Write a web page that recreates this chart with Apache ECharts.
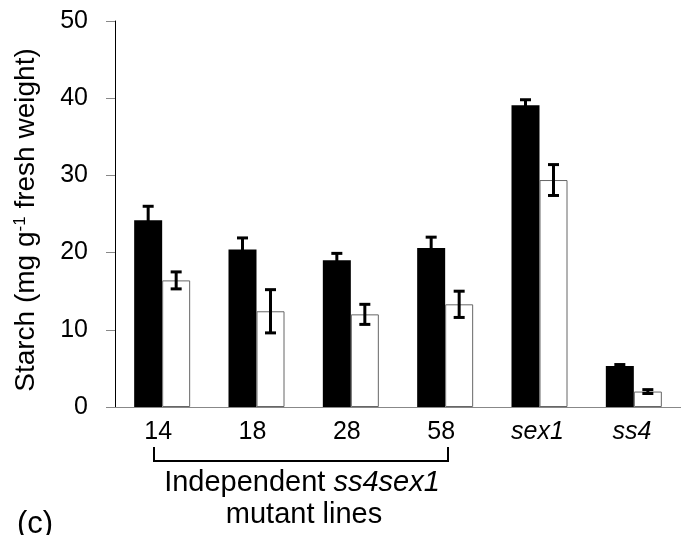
<!DOCTYPE html>
<html>
<head>
<meta charset="utf-8">
<script src="https://cdn.jsdelivr.net/npm/echarts@6/dist/echarts.min.js"></script>
<style>html,body{margin:0;padding:0;background:#fff;}#c{width:681px;height:535px;}</style>
</head>
<body>
<div id="c"></div>
<script>
const categories = ['14', '18', '28', '58', 'sex1', 'ss4'];
const italicCategories = ['sex1', 'ss4'];
const blackValues = [24.2, 20.4, 19.0, 20.6, 39.1, 5.3];
const blackErrors = [1.8, 1.5, 0.9, 1.4, 0.7, 0.2];
const whiteValues = [16.4, 12.4, 12.0, 13.3, 29.4, 2.0];
const whiteErrors = [1.1, 2.8, 1.3, 1.7, 2.0, 0.25];
const yMin = 0, yMax = 50, yStep = 10;

const FONT = '"Liberation Sans", Arial, sans-serif';
const BAR_W = 28;

function errSeries(values, errors, offset) {
  return {
    type: 'custom',
    z: 10,
    data: values.map((v, i) => [i, v, errors[i]]),
    encode: { x: 0, y: 1 },
    renderItem: function (params, api) {
      const i = api.value(0), v = api.value(1), e = api.value(2);
      const top = api.coord([i, v + e]);
      const bot = api.coord([i, v - e]);
      const x = top[0] + offset;
      const hw = 5.5;
      const st = { stroke: '#000', lineWidth: 3 };
      return {
        type: 'group',
        children: [
          { type: 'line', shape: { x1: x, y1: top[1], x2: x, y2: bot[1] }, style: st },
          { type: 'line', shape: { x1: x - hw, y1: top[1], x2: x + hw, y2: top[1] }, style: st },
          { type: 'line', shape: { x1: x - hw, y1: bot[1], x2: x + hw, y2: bot[1] }, style: st }
        ]
      };
    }
  };
}

const chart = echarts.init(document.getElementById('c'), null, { renderer: 'canvas' });
chart.setOption({
  animation: false,
  backgroundColor: '#fff',
  textStyle: { fontFamily: FONT },
  grid: { left: 115, top: 21, width: 576, height: 386, containLabel: false },
  xAxis: {
    type: 'category',
    data: categories,
    axisLine: { lineStyle: { color: '#888', width: 1 } },
    axisTick: { show: false },
    axisLabel: {
      margin: 13,
      color: '#000',
      formatter: function (v) {
        return italicCategories.indexOf(v) >= 0 ? '{i|' + v + '}' : '{n|' + v + '}';
      },
      rich: {
        n: { fontSize: 25, fontFamily: FONT, color: '#000', padding: [0, 8, 0, 0] },
        i: { fontSize: 25, fontFamily: FONT, color: '#000', fontStyle: 'italic', padding: [0, 4, 0, 0] }
      }
    }
  },
  yAxis: {
    type: 'value',
    min: yMin, max: yMax, interval: yStep,
    name: 'Starch (mg g{sup|-1} fresh weight)',
    nameLocation: 'middle',
    nameGap: 75,
    nameTextStyle: {
      fontSize: 28, fontFamily: FONT, color: '#000', padding: [0, 12, 0, 0],
      rich: { sup: { fontSize: 17, fontFamily: FONT, color: '#000', verticalAlign: 'top', lineHeight: 28 } }
    },
    axisLine: { show: true, lineStyle: { color: '#000', width: 1 } },
    axisTick: { show: true, length: 9, lineStyle: { color: '#888' } },
    axisLabel: { fontSize: 25, color: '#000', margin: 27, fontFamily: FONT },
    splitLine: { show: false }
  },
  series: [
    {
      type: 'bar', data: blackValues, barWidth: BAR_W, barGap: '0%',
      itemStyle: { color: '#000', borderWidth: 0 }
    },
    {
      type: 'bar', data: whiteValues, barWidth: BAR_W, barGap: '0%',
      itemStyle: { color: '#fff', borderColor: '#666', borderWidth: 1 }
    },
    errSeries(blackValues, blackErrors, -BAR_W / 2),
    errSeries(whiteValues, whiteErrors, BAR_W / 2)
  ],
  graphic: [
    { type: 'polyline', shape: { points: [[154, 447], [154, 461], [448, 461], [448, 447]] },
      style: { stroke: '#000', lineWidth: 2, fill: null } },
    { type: 'text', x: 302, y: 468,
      style: { text: '{a|Independent }{b|ss4sex1}', align: 'center', verticalAlign: 'top',
        rich: { a: { fontSize: 29, fontFamily: FONT, fill: '#000' },
                b: { fontSize: 29, fontFamily: FONT, fill: '#000', fontStyle: 'italic' } } } },
    { type: 'text', x: 304, y: 500,
      style: { text: 'mutant lines', align: 'center', verticalAlign: 'top', fontSize: 29, fontFamily: FONT, fill: '#000' } },
    { type: 'text', x: 17, y: 509,
      style: { text: '(c)', align: 'left', verticalAlign: 'top', fontSize: 31, fontFamily: FONT, fill: '#000' } }
  ]
});
</script>
</body>
</html>
